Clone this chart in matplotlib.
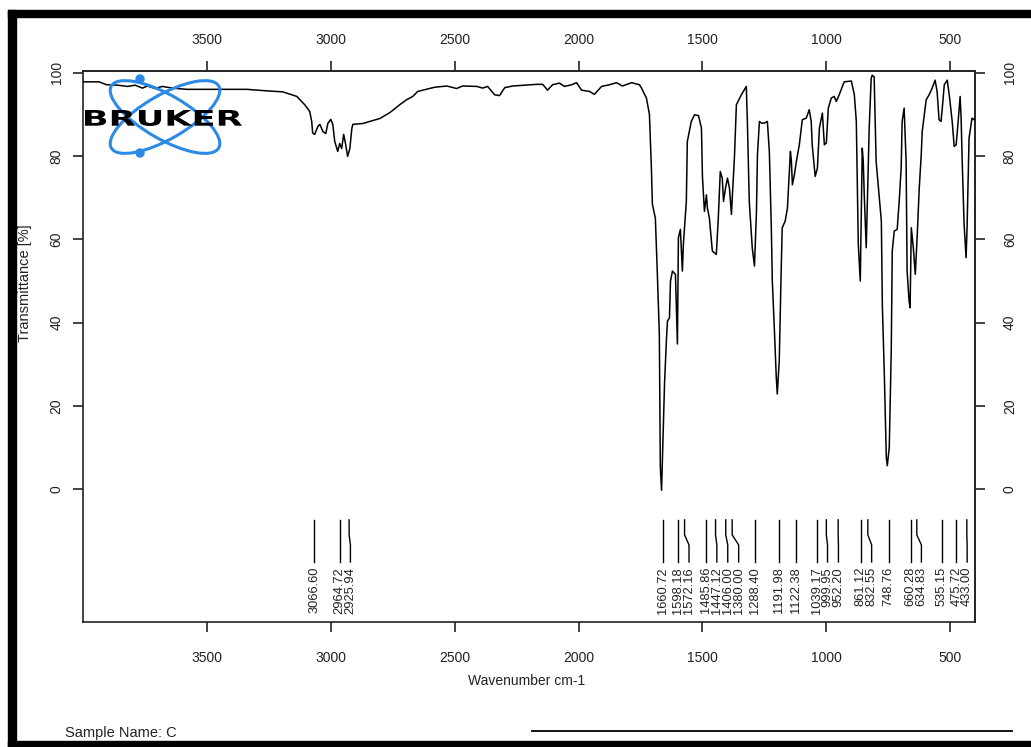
import matplotlib
matplotlib.use("Agg")
import matplotlib.pyplot as plt
import matplotlib.patches as patches
import matplotlib.transforms as mtransforms
from matplotlib.lines import Line2D
from matplotlib.textpath import TextPath
from matplotlib.font_manager import FontProperties

W, H, DPI = 1031, 747, 100

# spectrum (cm-1, %T)
wavenumber = [
    4000, 3935, 3905, 3860, 3820, 3790, 3760, 3740, 3710, 3680, 3640, 3581, 3450, 3339,
    3250, 3194, 3153, 3137, 3105, 3085, 3077, 3073, 3065, 3052, 3044, 3032, 3020, 3012,
    3000, 2992, 2984, 2972, 2964, 2956, 2948, 2940, 2932, 2923, 2915, 2911, 2871, 2802,
    2762, 2722, 2694, 2669, 2649, 2581, 2532, 2492, 2468, 2411, 2387, 2367, 2339, 2319,
    2298, 2266, 2169, 2145, 2125, 2105, 2077, 2057, 2028, 2008, 1988, 1956, 1936, 1907,
    1875, 1847, 1823, 1786, 1754, 1746, 1726, 1714, 1706, 1702, 1690, 1682, 1674, 1670,
    1665, 1661, 1653, 1645, 1641, 1633, 1629, 1621, 1609, 1601, 1597, 1589, 1581, 1577,
    1565, 1561, 1545, 1532, 1516, 1504, 1500, 1492, 1484, 1480, 1472, 1460, 1444, 1436,
    1428, 1420, 1415, 1407, 1399, 1391, 1383, 1379, 1371, 1363, 1343, 1323, 1319, 1311,
    1299, 1290, 1282, 1278, 1270, 1262, 1250, 1238, 1230, 1222, 1218, 1210, 1202, 1198,
    1190, 1182, 1178, 1166, 1157, 1145, 1141, 1137, 1129, 1121, 1109, 1097, 1081, 1069,
    1061, 1057, 1045, 1036, 1028, 1016, 1008, 1000, 992, 980, 968, 960, 948, 928,
    899, 887, 879, 871, 863, 855, 851, 847, 839, 835, 827, 819, 815, 807,
    799, 787, 778, 774, 766, 758, 754, 746, 738, 734, 726, 714, 706, 698,
    694, 686, 678, 674, 666, 662, 657, 649, 641, 633, 625, 617, 613, 597,
    585, 573, 561, 553, 545, 537, 532, 524, 512, 504, 492, 484, 476, 468,
    460, 456, 452, 444, 436, 432, 424, 412, 404, 400,
]
transmittance = [
    97.8, 97.8, 97.1, 97.0, 96.7, 97.0, 96.3, 96.8, 96.2, 96.7, 96.3, 96.0, 96.0, 96.0,
    95.6, 95.4, 94.6, 94.3, 92.3, 90.7, 88.3, 85.5, 85.2, 87.1, 87.6, 85.9, 85.4, 87.8,
    88.8, 87.6, 83.5, 81.1, 83.0, 81.8, 85.2, 82.8, 79.9, 81.8, 86.6, 87.6, 87.8, 89.0,
    90.4, 92.3, 93.5, 94.3, 95.5, 96.5, 96.8, 96.2, 96.8, 96.7, 96.3, 96.7, 94.7, 94.5,
    96.4, 96.8, 97.2, 97.2, 95.8, 97.1, 97.5, 96.7, 97.1, 97.6, 95.8, 95.5, 94.8, 96.7,
    97.1, 97.6, 96.8, 97.6, 97.1, 96.3, 93.9, 90.0, 77.1, 68.4, 65.1, 51.7, 37.3, 5.4,
    -0.2, 8.6, 25.4, 36.4, 40.4, 41.2, 50.0, 52.4, 51.6, 34.9, 60.4, 62.4, 52.4, 58.8,
    69.1, 83.5, 88.3, 89.9, 89.7, 86.7, 75.1, 66.7, 70.7, 67.5, 65.1, 57.2, 56.4, 65.1,
    76.3, 74.7, 69.1, 72.3, 74.7, 72.3, 66.0, 70.7, 79.5, 92.3, 94.7, 96.7, 89.1, 69.1,
    58.0, 53.6, 66.7, 80.3, 88.3, 87.9, 87.9, 88.3, 81.1, 62.8, 50.0, 38.8, 26.9, 22.9,
    30.9, 53.2, 62.8, 64.4, 67.5, 81.1, 78.7, 73.1, 75.5, 78.7, 82.7, 88.7, 89.1, 91.1,
    88.3, 82.7, 75.1, 77.1, 86.7, 90.3, 82.7, 83.1, 91.5, 93.9, 94.3, 93.1, 94.7, 97.8,
    98.0, 94.7, 88.3, 58.8, 50.0, 81.9, 78.7, 70.7, 58.0, 67.5, 86.7, 98.6, 99.4, 99.0,
    78.7, 70.7, 64.4, 44.4, 27.7, 7.7, 5.7, 10.1, 33.3, 57.2, 62.0, 62.4, 69.1, 77.1,
    88.3, 91.5, 78.7, 52.4, 45.2, 43.6, 62.8, 58.0, 51.6, 61.2, 72.3, 80.3, 85.9, 93.5,
    94.7, 96.3, 98.2, 95.5, 88.7, 88.3, 91.5, 97.1, 98.2, 94.7, 88.3, 82.3, 82.7, 88.3,
    94.3, 89.1, 79.5, 63.6, 55.6, 62.8, 84.3, 89.1, 88.7, 89.0,
]

# peak picking labels
peaks = [3066.60, 2964.72, 2925.94, 1660.72, 1598.18, 1572.16, 1485.86, 1447.12,
         1406.00, 1380.00, 1288.40, 1191.98, 1122.38, 1039.17, 999.95, 952.20,
         861.12, 832.55, 748.76, 660.28, 634.83, 535.15, 475.72, 433.00]

x_ticks = [3500, 3000, 2500, 2000, 1500, 1000, 500]
y_ticks = [0, 20, 40, 60, 80, 100]
sample_name = "Sample Name: C"

plt.rcParams["font.family"] = ["Liberation Sans", "DejaVu Sans"]
TXT = "#222222"

fig = plt.figure(figsize=(W / DPI, H / DPI), dpi=DPI)
fig.patch.set_facecolor("white")

# pixel coordinates, origin top left
pix = mtransforms.Affine2D().scale(1 / DPI, -1 / DPI).translate(0, H / DPI) + fig.dpi_scale_trans

ax = fig.add_axes([83 / W, 1 - 622 / H, (975 - 83) / W, (622 - 71) / H])
ax.plot(wavenumber, transmittance, color="black", lw=1.1, zorder=3)
ax.set_xlim(4000, 400)
ax.set_ylim(-31.8, 100.4)

tick_kw = dict(direction="out", length=7, width=1.2, colors=TXT, labelsize=10)
ax.set_xticks(x_ticks)
ax.set_yticks(y_ticks)
ax.tick_params(axis="x", pad=14, **tick_kw)
ax.tick_params(axis="y", labelrotation=90, pad=7, **tick_kw)
for lab in ax.get_yticklabels():
    lab.set_va("center")

top = ax.secondary_xaxis("top")
top.set_xticks(x_ticks)
top.tick_params(axis="x", pad=10, **tick_kw)
right = ax.secondary_yaxis("right")
right.set_yticks(y_ticks)
right.tick_params(axis="y", labelrotation=90, pad=13, **tick_kw)
for lab in right.get_yticklabels():
    lab.set_va("center")

for a in (ax, top, right):
    for sp in a.spines.values():
        sp.set_linewidth(1.2)
        sp.set_color(TXT)

# peak markers below the spectrum
min_gap = 44.0
label_pos = []
for p in peaks:
    if label_pos and label_pos[-1] - p < min_gap:
        label_pos.append(label_pos[-1] - min_gap)
    else:
        label_pos.append(p)
for p, lp in zip(peaks, label_pos):
    ax.plot([p, p, lp, lp], [-7.3, -10.9, -13.3, -17.4], color="black", lw=1.0,
            clip_on=False, zorder=3)
    ax.text(lp, -18.6, f"{p:.2f}", rotation=90, ha="center", va="top",
            fontsize=9.3, color=TXT)

# axis titles
fig.text(527 / W, 1 - 681 / H, "Wavenumber cm-1", ha="center", va="center",
         fontsize=10, color=TXT)
fig.text(25 / W, 1 - 283 / H, "Transmittance [%]", ha="center", va="center",
         rotation=90, fontsize=10.5, color=TXT)
fig.text(65 / W, 1 - 733 / H, sample_name, ha="left", va="center",
         fontsize=10.5, color=TXT)
fig.add_artist(Line2D([532, 1012], [731, 731], transform=pix, color="black", lw=1.3))

# Bruker logo
blue = "#2a8ae6"
for ang in (30, -30):
    fig.add_artist(patches.Ellipse((165, 117), 124, 44, angle=ang, transform=pix,
                                   fill=False, edgecolor=blue, lw=2.2, zorder=1))
for cy in (79, 153):
    fig.add_artist(patches.Circle((140, cy), 4, transform=pix, color=blue, zorder=1))
tp = TextPath((0, 0), "BRUKER", size=1, prop=FontProperties(family="DejaVu Sans", weight="bold"))
bb = tp.get_extents()
tr = (mtransforms.Affine2D().translate(-bb.x0, -bb.y0)
      .scale(157 / bb.width, -16 / bb.height).translate(85, 126) + pix)
fig.add_artist(patches.PathPatch(tp, transform=tr, facecolor="black", edgecolor="none", zorder=2))

# window frame
for (x0, y0, w, h) in [(8, 10, W - 8, 7), (8, 10, 8, H - 10), (8, 741, W - 8, 6)]:
    fig.add_artist(patches.Rectangle((x0, y0), w, h, transform=pix, color="black", zorder=5))

fig.savefig("out.png", dpi=DPI)
